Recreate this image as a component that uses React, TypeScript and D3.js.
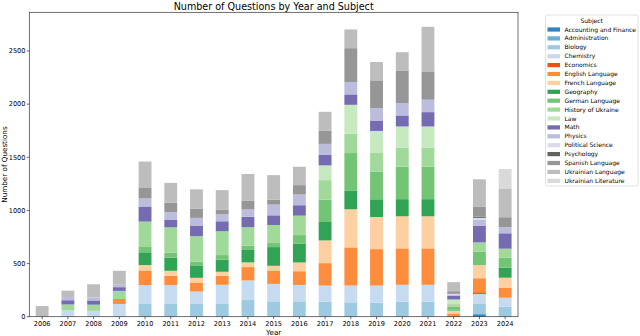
import { scaleBand, scaleLinear, stack, max } from "d3";

const years = [
  "2006", "2007", "2008", "2009", "2010", "2011", "2012", "2013", "2014", "2015",
  "2016", "2017", "2018", "2019", "2020", "2021", "2022", "2023", "2024",
];

const subjects = [
  "Accounting and Finance", "Administration", "Biology", "Chemistry", "Economics",
  "English Language", "French Language", "Geography", "German Language",
  "History of Ukraine", "Law", "Math", "Physics", "Political Science",
  "Psychology", "Spanish Language", "Ukrainian Language", "Ukrainian Literature",
];

// tab20c sampled for 18 series
const colors = [
  "#3182bd", "#6baed6", "#9ecae1", "#c6dbef", "#e6550d", "#fd8d3c", "#fdd0a2",
  "#31a354", "#74c476", "#a1d99b", "#c7e9c0", "#756bb1", "#bcbddc", "#dadaeb",
  "#636363", "#969696", "#bdbdbd", "#d9d9d9",
];

const accounting = [0, 0, 0, 0, 0, 0, 0, 0, 0, 0, 0, 0, 0, 0, 0, 0, 0, 16, 0];
const administration = [0, 0, 0, 0, 0, 0, 0, 0, 0, 0, 0, 0, 0, 0, 0, 0, 0, 16, 0];
const biology = [0, 0, 0, 0, 120, 120, 120, 120, 158, 145, 145, 142, 135, 132, 142, 142, 0, 88, 94];
const chemistry = [5, 60, 55, 120, 177, 177, 117, 180, 183, 164, 154, 151, 158, 161, 158, 158, 0, 94, 85];
const economics = [0, 0, 0, 0, 0, 0, 0, 0, 0, 0, 0, 0, 0, 0, 0, 0, 8, 16, 0];
const english = [0, 0, 0, 47, 139, 88, 85, 85, 126, 126, 129, 211, 359, 343, 343, 343, 22, 132, 94];
const french = [0, 0, 0, 0, 50, 47, 44, 38, 44, 44, 82, 214, 359, 302, 302, 302, 28, 123, 94];
const geography = [0, 0, 0, 0, 120, 123, 117, 113, 117, 176, 176, 173, 173, 167, 161, 161, 10, 0, 94];
const german = [0, 0, 0, 0, 50, 47, 35, 44, 41, 38, 82, 211, 356, 261, 306, 306, 25, 126, 94];
const history = [0, 55, 58, 76, 239, 239, 239, 224, 173, 170, 183, 183, 183, 180, 180, 180, 25, 88, 85];
const law = [0, 0, 0, 0, 0, 0, 0, 0, 0, 0, 0, 139, 271, 202, 198, 198, 44, 0, 0];
const math = [0, 40, 40, 35, 142, 69, 101, 94, 98, 91, 98, 98, 98, 98, 104, 135, 38, 158, 145];
const physics = [0, 30, 27, 22, 76, 72, 72, 66, 69, 101, 101, 104, 117, 117, 117, 117, 0, 57, 57];
const politicalScience = [0, 0, 0, 0, 0, 0, 0, 0, 0, 0, 0, 0, 0, 0, 0, 0, 15, 16, 0];
const psychology = [0, 0, 0, 0, 0, 0, 0, 0, 0, 0, 0, 0, 0, 0, 0, 0, 0, 12, 0];
const spanish = [0, 0, 0, 0, 104, 91, 85, 44, 85, 47, 88, 126, 318, 261, 302, 261, 25, 91, 94];
const ukrLanguage = [95, 60, 125, 132, 243, 186, 183, 183, 249, 230, 173, 176, 176, 173, 176, 425, 85, 260, 271];
const ukrLiterature = [0, 0, 0, 0, 0, 0, 0, 0, 0, 0, 0, 0, 0, 0, 0, 0, 0, 0, 183];

const series = [
  accounting, administration, biology, chemistry, economics, english, french,
  geography, german, history, law, math, physics, politicalScience, psychology,
  spanish, ukrLanguage, ukrLiterature,
];

const yTicks = [0, 500, 1000, 1500, 2000, 2500];

const FONT = "DejaVu Sans, sans-serif";

export default function App() {
  const width = 640;
  const height = 336;
  const MARGIN = { left: 29.3, top: 12.3, right: 122, bottom: 19.3 };
  const boundsWidth = width - MARGIN.left - MARGIN.right;
  const boundsHeight = height - MARGIN.top - MARGIN.bottom;

  const table = years.map((year, i) => {
    const row: Record<string, number | string> = { year };
    subjects.forEach((s, j) => (row[s] = series[j][i]));
    return row;
  });

  const stacked = stack<any>().keys(subjects)(table);
  const totalMax = max(table, (d) => subjects.reduce((a, s) => a + (d[s] as number), 0)) || 0;

  const xScale = scaleBand()
    .domain(years)
    .range([0, boundsWidth])
    .paddingInner(0.5)
    .paddingOuter(0.25);

  const yScale = scaleLinear()
    .domain([0, totalMax * 1.05])
    .range([boundsHeight, 0]);

  const legendX = 545.5;
  const legendY = 15;
  const rowH = 8.9;

  return (
    <div style={{ position: "absolute", left: 0, top: 0 }}>
      <svg width={width} height={height} style={{ display: "block", background: "#fff" }} fontFamily={FONT}>
        <text x={MARGIN.left + boundsWidth / 2} y={9.5} fontSize={9.6} textAnchor="middle" fill="#000">
          Number of Questions by Year and Subject
        </text>
        <g transform={`translate(${MARGIN.left},${MARGIN.top})`}>
          {stacked.map((layer, j) => (
            <g key={j} fill={colors[j]}>
              {layer.map((d, i) => {
                const h = yScale(d[0]) - yScale(d[1]);
                if (h <= 0) return null;
                return (
                  <rect
                    key={i}
                    x={xScale(years[i])}
                    y={yScale(d[1])}
                    width={xScale.bandwidth()}
                    height={h}
                  />
                );
              })}
            </g>
          ))}
          {yTicks.map((v) => (
            <g key={v} transform={`translate(0,${yScale(v)})`}>
              <line x1={-2.5} x2={0} stroke="#000" strokeWidth={0.6} />
              <text x={-3.8} y={2.3} fontSize={6.6} textAnchor="end" fill="#000">
                {v}
              </text>
            </g>
          ))}
          {years.map((yr) => {
            const cx = (xScale(yr) || 0) + xScale.bandwidth() / 2;
            return (
              <g key={yr} transform={`translate(${cx},${boundsHeight})`}>
                <line y1={0} y2={2.5} stroke="#000" strokeWidth={0.6} />
                <text y={9.2} fontSize={6.6} textAnchor="middle" fill="#000">
                  {yr}
                </text>
              </g>
            );
          })}
          <rect
            x={0}
            y={0}
            width={boundsWidth}
            height={boundsHeight}
            fill="none"
            stroke="#333"
            strokeWidth={0.7}
          />
          <text
            x={boundsWidth / 2}
            y={boundsHeight + 18.3}
            fontSize={7.2}
            textAnchor="middle"
            fill="#000"
          >
            Year
          </text>
        </g>
        <text
          transform={`translate(6.7,${MARGIN.top + boundsHeight / 2}) rotate(-90)`}
          fontSize={7.2}
          textAnchor="middle"
          fill="#000"
        >
          Number of Questions
        </text>
        <g>
          <rect
            x={legendX}
            y={legendY}
            width={92.5}
            height={171}
            rx={2}
            fill="#fff"
            fillOpacity={0.8}
            stroke="#d4d4d4"
            strokeWidth={0.7}
          />
          <text x={legendX + 46.2} y={legendY + 7.7} fontSize={6} textAnchor="middle" fill="#000">
            Subject
          </text>
          {subjects.map((s, i) => {
            const cy = 29.4 + i * rowH;
            return (
              <g key={s}>
                <rect x={547.5} y={cy - 2} width={12.5} height={4.2} fill={colors[i]} />
                <text x={564.5} y={cy + 2.1} fontSize={6} fill="#000">
                  {s}
                </text>
              </g>
            );
          })}
        </g>
      </svg>
    </div>
  );
}
